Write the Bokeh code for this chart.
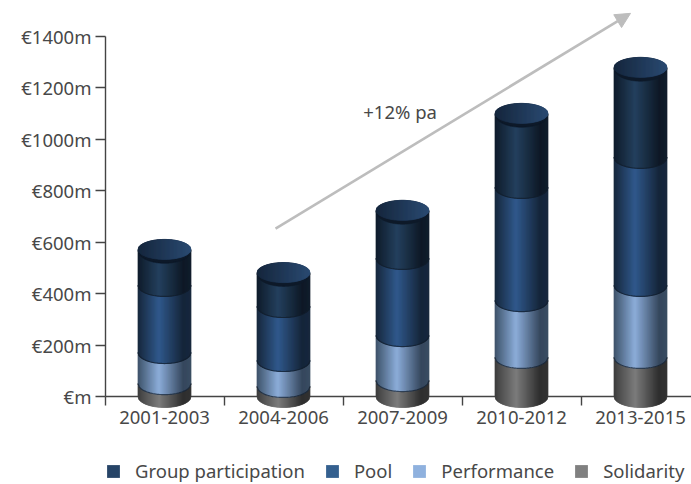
import numpy as np
from bokeh.core.properties import value
from bokeh.embed import file_html
from bokeh.models import Arrow, FixedTicker, Legend, LegendItem, LinearAxis, NormalHead, Range1d
from bokeh.plotting import figure
from bokeh.resources import INLINE

# Award periods and the stacked amounts in EUR million, bottom segment first
periods = ["2001-2003", "2004-2006", "2007-2009", "2010-2012", "2013-2015"]
solidarity = [50, 39, 62, 152, 152]
performance = [121, 101, 175, 221, 280]
pool = [261, 210, 300, 440, 498]
group_participation = [136, 128, 183, 284, 346]

series_names = ["Solidarity", "Performance", "Pool", "Group participation"]
series_values = [solidarity, performance, pool, group_participation]
y_ticks = [0, 200, 400, 600, 800, 1000, 1200, 1400]
y_tick_labels = ["€m", "€200m", "€400m", "€600m", "€800m", "€1000m", "€1200m", "€1400m"]

# Cylinder shading: (left edge, highlight, right shoulder, right edge)
shading = [
    ("#3c3c3c", "#7c7c7c", "#2e2e2e", "#333333"),
    ("#3d5269", "#8cadda", "#35475d", "#3a4d63"),
    ("#16273c", "#30598c", "#15253a", "#17283e"),
    ("#0f1b2a", "#24405e", "#0e1926", "#111d2c"),
]
legend_colors = ["#808080", "#8fb1de", "#34608f", "#264467"]
cap_dark, cap_light = "#15263c", "#2a4a72"

W, H = 691, 484
PX_PER_X = 119.0
PX_PER_Y = 360.0 / 1400.0
X_ZERO_PX, Y_ZERO_PX = 164.0, 396.0
HALF_WIDTH = 26.5 / PX_PER_X
RY = 11.0 / PX_PER_Y
RIM_RY = 12.8 / PX_PER_Y
CAP_RY = 10.0 / PX_PER_Y
CAP_LIFT = 1.0 / PX_PER_Y
N_STRIPS = 53
FONT = "Noto Sans"
FONT_SIZE = "18.5px"
TEXT_COLOR = "#484848"
AXIS_COLOR = "#444444"


def hex_rgb(c):
    return np.array([int(c[i:i + 2], 16) for i in (1, 3, 5)], dtype=float)


def shade(stops, u):
    """Colour across the cylinder for u in [-1, 1]."""
    pos = [-1.0, -0.2, 0.72, 1.0]
    rgb = [np.interp(u, pos, [hex_rgb(s)[k] for s in stops]) for k in range(3)]
    return "#%02x%02x%02x" % tuple(int(round(v)) for v in rgb)


def bow(u):
    return np.sqrt(np.clip(1 - u * u, 0, 1))


p = figure(
    width=W, height=H, output_backend="svg", toolbar_location=None,
    x_range=Range1d(-X_ZERO_PX / PX_PER_X, (W - X_ZERO_PX) / PX_PER_X),
    y_range=Range1d((Y_ZERO_PX - H) / PX_PER_Y, Y_ZERO_PX / PX_PER_Y),
    min_border=0, x_axis_type=None, y_axis_type=None,
    outline_line_color=None,
)
p.xgrid.visible = False
p.ygrid.visible = False
p.background_fill_color = "white"

positions = list(range(len(periods)))
left_bound = -59.0 / PX_PER_X
boundaries = [left_bound + i for i in range(len(periods))]

xaxis = LinearAxis(
    fixed_location=0,
    ticker=FixedTicker(ticks=positions, minor_ticks=boundaries),
    major_label_overrides={i: s for i, s in zip(positions, periods)},
    major_tick_out=0, major_tick_in=0,
    minor_tick_out=9, minor_tick_in=0,
    minor_tick_line_color=AXIS_COLOR, minor_tick_line_width=1.4,
    axis_line_color=AXIS_COLOR, axis_line_width=1.4,
    major_label_text_font=FONT, major_label_text_font_size=FONT_SIZE,
    major_label_text_color=TEXT_COLOR, major_label_standoff=5,
    bounds=(left_bound, (W - X_ZERO_PX) / PX_PER_X),
    level="underlay",
)
p.add_layout(xaxis, "below")

yaxis = LinearAxis(
    fixed_location=left_bound,
    ticker=FixedTicker(ticks=y_ticks),
    major_label_overrides={t: s for t, s in zip(y_ticks, y_tick_labels)},
    major_tick_out=10, major_tick_in=0,
    major_tick_line_color=AXIS_COLOR, major_tick_line_width=1.4,
    minor_tick_out=0, minor_tick_in=0,
    axis_line_color=AXIS_COLOR, axis_line_width=1.4,
    major_label_text_font=FONT, major_label_text_font_size=FONT_SIZE,
    major_label_text_color=TEXT_COLOR, major_label_standoff=4,
    bounds=(0, 1400),
    level="underlay",
)
p.add_layout(yaxis, "left")

# Each cylinder is built from narrow vertical strips so the sides can be shaded
edges = np.linspace(-1, 1, N_STRIPS + 1)
for i, pos in enumerate(positions):
    base = 0.0
    for s, vals in enumerate(series_values):
        top = base + vals[i]
        xs, ys, cols = [], [], []
        for u0, u1 in zip(edges[:-1], edges[1:]):
            x0, x1 = pos + u0 * HALF_WIDTH, pos + u1 * HALF_WIDTH
            xs.append([x0, x1, x1, x0])
            ys.append([base - RY * bow(u0), base - RY * bow(u1), top - RY * bow(u1), top - RY * bow(u0)])
            cols.append(shade(shading[s], (u0 + u1) / 2))
        p.patches(xs, ys, fill_color=cols, line_color=cols, line_width=0.7)
        # dark seam where this segment sits on the one below
        if s > 0:
            uu = np.linspace(-1, 1, 41)
            p.line(pos + uu * HALF_WIDTH, base - RY * bow(uu), line_color="#111c2b", line_width=1.2, line_alpha=0.7)
        base = top

    # top of the cylinder: dark rim with a lit disc lifted slightly above it
    uu = np.linspace(-1, 1, 61)
    xx = pos + uu * HALF_WIDTH
    rim_y = np.concatenate([base + RY * bow(uu), (base - RIM_RY * bow(uu))[::-1]])
    p.patch(np.concatenate([xx, xx[::-1]]), rim_y, fill_color="#0d1929", line_color="#0d1929", line_width=0.6)
    xs, ys, cols = [], [], []
    dark, light = hex_rgb(cap_dark), hex_rgb(cap_light)
    for u0, u1 in zip(edges[:-1], edges[1:]):
        x0, x1 = pos + u0 * HALF_WIDTH, pos + u1 * HALF_WIDTH
        c = base + CAP_LIFT
        xs.append([x0, x1, x1, x0])
        ys.append([c - CAP_RY * bow(u0), c - CAP_RY * bow(u1), c + CAP_RY * bow(u1), c + CAP_RY * bow(u0)])
        t = ((u0 + u1) / 2 + 1) / 2
        cols.append("#%02x%02x%02x" % tuple(int(round(v)) for v in dark + (light - dark) * t))
    p.patches(xs, ys, fill_color=cols, line_color=cols, line_width=0.7)

# Growth annotation
p.add_layout(Arrow(
    end=NormalHead(size=15, fill_color="#bdbdbd", line_color="#bdbdbd"),
    x_start=0.933, y_start=653, x_end=3.916, y_end=1490,
    line_color="#bdbdbd", line_width=2.6,
))
p.text(x=[1.98], y=[1108], text=["+12% pa"], text_font=value(FONT), text_font_size=FONT_SIZE,
       text_color=TEXT_COLOR, text_align="center", text_baseline="middle")

# Legend swatches come from undrawn quads so only the key shows them
items = []
for name, color in reversed(list(zip(series_names, legend_colors))):
    r = p.quad(left=[np.nan], right=[np.nan], top=[np.nan], bottom=[np.nan], fill_color=color, line_color=None)
    items.append(LegendItem(label=name, renderers=[r]))
legend = Legend(
    items=items, orientation="horizontal", location=(105, 1),
    border_line_color=None, background_fill_alpha=0, margin=0, padding=0,
    glyph_width=16, glyph_height=16, label_standoff=14, spacing=19,
    label_text_font=FONT, label_text_font_size=FONT_SIZE, label_text_color=TEXT_COLOR,
    label_height=18,
)
p.add_layout(legend, "center")

open("out.html", "w").write(file_html(p, INLINE))
